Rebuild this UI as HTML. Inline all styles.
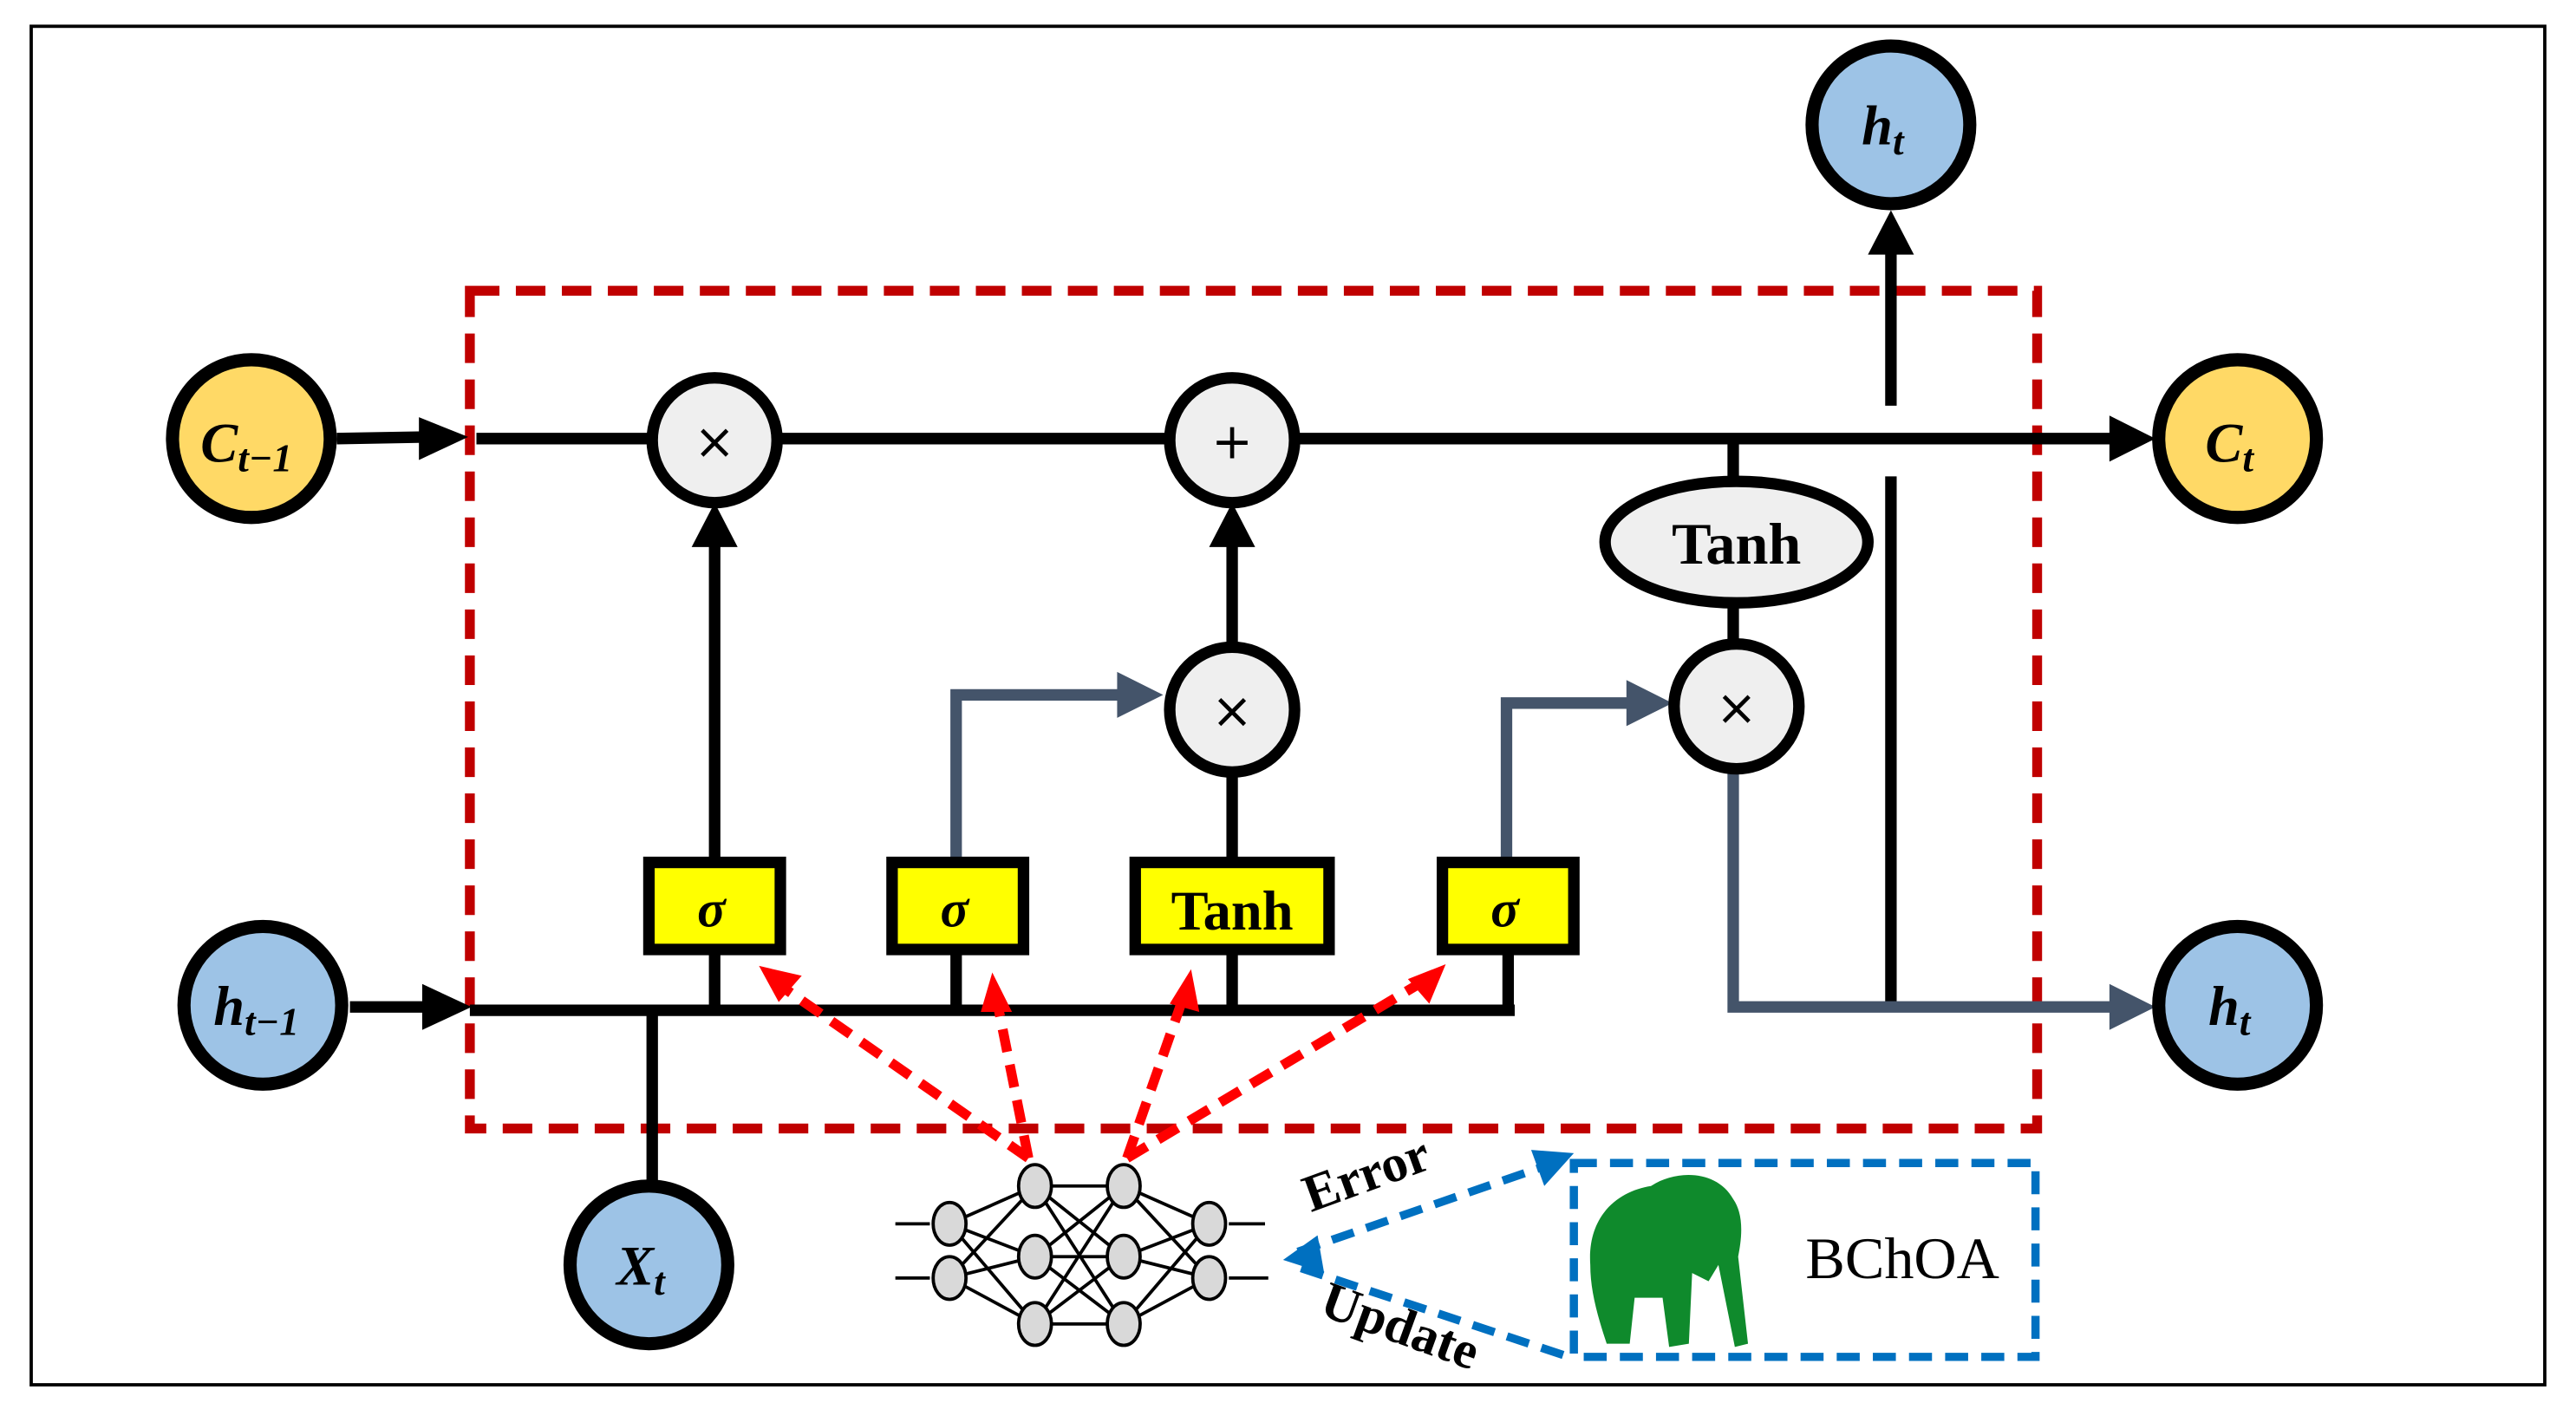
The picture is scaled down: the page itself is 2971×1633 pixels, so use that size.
<!DOCTYPE html>
<html><head><meta charset="utf-8"><style>
html,body{margin:0;padding:0;background:#fff;}
svg{display:block;}
text{font-family:"Liberation Serif",serif;font-weight:bold;}
</style></head><body>
<svg width="2971" height="1633" viewBox="0 0 1568 862" preserveAspectRatio="none" xmlns="http://www.w3.org/2000/svg">
<rect x="0" y="0" width="1568" height="862" fill="#fff"/>
<rect x="19" y="16" width="1530" height="827" fill="none" stroke="#000" stroke-width="2"/>
<rect x="286" y="177" width="954" height="510" fill="none" stroke="#c00000" stroke-width="6" stroke-dasharray="18,10"/>
<g stroke="#000" stroke-width="7" fill="none">
<line x1="205" y1="267" x2="262" y2="266"/>
<line x1="290" y1="267" x2="1290" y2="267"/>
<line x1="213" y1="613" x2="262" y2="613"/>
<line x1="286" y1="615" x2="922" y2="615"/>
<line x1="918" y1="615" x2="918" y2="578"/>
<line x1="435" y1="615" x2="435" y2="578"/>
<line x1="582" y1="615" x2="582" y2="578"/>
<line x1="750" y1="615" x2="750" y2="578"/>
<line x1="435" y1="523" x2="435" y2="330"/>
<line x1="750" y1="523" x2="750" y2="470"/>
<line x1="750" y1="394" x2="750" y2="330"/>
<line x1="1055" y1="267" x2="1055" y2="294"/>
<line x1="1055" y1="367" x2="1055" y2="392"/>
<line x1="1151" y1="610" x2="1151" y2="290"/>
<line x1="1151" y1="247" x2="1151" y2="150"/>
<line x1="397" y1="615" x2="397" y2="722"/>
</g>
<g fill="#000">
<path d="M255,254 L285,266 L255,280z"/>
<path d="M257,599 L287,613 L257,627z"/>
<path d="M1284,253 L1312,267 L1284,281z"/>
<path d="M421,333 L435,306 L449,333z"/>
<path d="M736,333 L750,306 L764,333z"/>
<path d="M1137,155 L1151,128 L1165,155z"/>
</g>
<g stroke="#44546a" stroke-width="7" fill="none">
<polyline points="582,523 582,423 688,423"/>
<polyline points="917,523 917,428 998,428"/>
<polyline points="1055,466 1055,613 1290,613"/>
</g>
<g fill="#44546a">
<path d="M680,409 L708,423 L680,437z"/>
<path d="M990,414 L1018,428 L990,442z"/>
<path d="M1284,599 L1312,613 L1284,627z"/>
</g>
<g stroke="#000" stroke-width="7" fill="#efefef">
<circle cx="435" cy="268" r="38"/>
<circle cx="750" cy="268" r="38"/>
<circle cx="750" cy="432" r="38"/>
<circle cx="1057" cy="430" r="38"/>
<ellipse cx="1057" cy="330" rx="80" ry="37"/>
</g>
<g font-size="30" text-anchor="middle" fill="#000">
<text x="435" y="279" style="font-family:'DejaVu Sans',sans-serif;font-weight:normal">×</text>
<text x="750" y="279" style="font-family:'DejaVu Sans',sans-serif;font-weight:normal">+</text>
<text x="750" y="443" style="font-family:'DejaVu Sans',sans-serif;font-weight:normal">×</text>
<text x="1057" y="441" style="font-family:'DejaVu Sans',sans-serif;font-weight:normal">×</text>
</g>
<text x="1057" y="343" font-size="36" text-anchor="middle">Tanh</text>
<g stroke="#000" stroke-width="7" fill="#ffff00">
<rect x="395" y="525" width="80" height="53"/>
<rect x="543" y="525" width="80" height="53"/>
<rect x="691" y="525" width="118" height="53"/>
<rect x="878" y="525" width="80" height="53"/>
</g>
<g font-size="32" text-anchor="middle">
<text x="433" y="564" font-style="italic">σ</text>
<text x="581" y="564" font-style="italic">σ</text>
<text x="750" y="566" font-size="34">Tanh</text>
<text x="916" y="564" font-style="italic">σ</text>
</g>
<g stroke="#000" stroke-width="8">
<circle cx="153" cy="267" r="48" fill="#ffd966"/>
<circle cx="1362" cy="267" r="48" fill="#ffd966"/>
<circle cx="1151" cy="76" r="48" fill="#9dc3e6"/>
<circle cx="160" cy="612" r="48" fill="#9dc3e6"/>
<circle cx="1362" cy="612" r="48" fill="#9dc3e6"/>
<circle cx="395" cy="770" r="48" fill="#9dc3e6"/>
</g>
<g font-size="34" font-style="italic" text-anchor="middle">
<text x="150" y="281">C<tspan font-size="24" dy="6">t−1</tspan></text>
<text x="1357" y="281">C<tspan font-size="24" dy="6">t</tspan></text>
<text x="1146" y="88">h<tspan font-size="24" dy="6">t</tspan></text>
<text x="156" y="624">h<tspan font-size="24" dy="6">t−1</tspan></text>
<text x="1357" y="624">h<tspan font-size="24" dy="6">t</tspan></text>
<text x="390" y="782">X<tspan font-size="24" dy="6">t</tspan></text>
</g>
<g stroke="#ff0000" stroke-width="6" stroke-dasharray="14,8" fill="none">
<line x1="626" y1="705" x2="475" y2="600"/>
<line x1="626" y1="705" x2="607" y2="610"/>
<line x1="686" y1="705" x2="720" y2="608"/>
<line x1="686" y1="705" x2="862" y2="600"/>
</g>
<g fill="#ff0000">
<path d="M462,588 L488,594 L474,610z"/>
<path d="M604,592 L616,616 L597,616z"/>
<path d="M725,590 L730,616 L712,611z"/>
<path d="M880,587 L870,611 L857,596z"/>
</g>
<g stroke="#000" stroke-width="2" fill="none">
<line x1="545" y1="745" x2="566" y2="745"/><line x1="545" y1="778" x2="566" y2="778"/>
<line x1="748" y1="745" x2="770" y2="745"/><line x1="748" y1="778" x2="772" y2="778"/>
<path d="M578,745 L630,722 M578,745 L630,765 M578,745 L630,806 M578,778 L630,722 M578,778 L630,765 M578,778 L630,806"/>
<path d="M630,722 L684,722 M630,722 L684,765 M630,722 L684,806 M630,765 L684,722 M630,765 L684,765 M630,765 L684,806 M630,806 L684,722 M630,806 L684,765 M630,806 L684,806"/>
<path d="M684,722 L736,745 M684,722 L736,778 M684,765 L736,745 M684,765 L736,778 M684,806 L736,745 M684,806 L736,778"/>
</g>
<g stroke="#000" stroke-width="2" fill="#d9d9d9">
<ellipse cx="578" cy="745" rx="10" ry="13"/><ellipse cx="578" cy="778" rx="10" ry="13"/>
<ellipse cx="630" cy="722" rx="10" ry="13"/><ellipse cx="630" cy="765" rx="10" ry="13"/><ellipse cx="630" cy="806" rx="10" ry="13"/>
<ellipse cx="684" cy="722" rx="10" ry="13"/><ellipse cx="684" cy="765" rx="10" ry="13"/><ellipse cx="684" cy="806" rx="10" ry="13"/>
<ellipse cx="736" cy="745" rx="10" ry="13"/><ellipse cx="736" cy="778" rx="10" ry="13"/>
</g>
<rect x="958" y="708" width="281" height="118" fill="none" stroke="#0070c0" stroke-width="5" stroke-dasharray="14,8"/>
<g stroke="#0070c0" stroke-width="5" stroke-dasharray="14,8" fill="none">
<line x1="790" y1="762" x2="940" y2="710"/>
<line x1="792" y1="772" x2="955" y2="826"/>
</g>
<g fill="#0070c0">
<path d="M958,702 L932,700 L940,722z"/>
<path d="M781,767 L802,752 L806,775z"/>
</g>
<text x="0" y="0" font-size="32" transform="translate(798,738) rotate(-20)">Error</text>
<text x="0" y="0" font-size="32" transform="translate(802,800) rotate(20)">Update</text>
<g fill="#0f8a2c">
<path d="M968,770 C966,740 985,725 1005,722 C1020,712 1045,712 1055,730 C1062,740 1060,755 1058,765 L1064,818 L1056,820 L1046,770 L1040,780 L1030,775 L1028,818 L1016,820 L1012,790 L995,790 L992,818 L978,818 C972,800 968,785 968,770z"/>
</g>
<text x="1158" y="778" font-size="36" text-anchor="middle" style="font-weight:normal">BChOA</text>
</svg>
</body></html>
